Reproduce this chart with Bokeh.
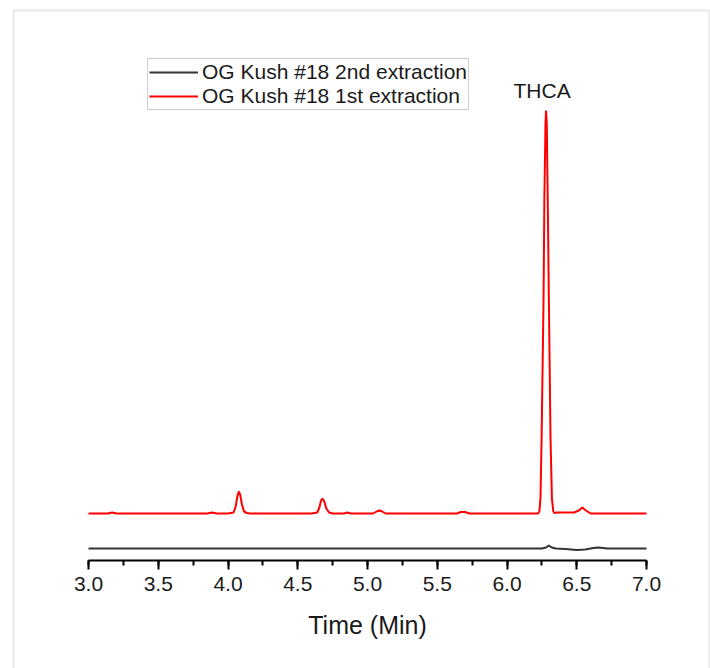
from bokeh.plotting import figure
from bokeh.models import (Range1d, SingleIntervalTicker, PrintfTickFormatter,
                          Legend, LegendItem, Label, BoxAnnotation)
from bokeh.embed import file_html
from bokeh.resources import INLINE

# ---- data (retention time in min, detector signal in arbitrary units) ----
time_1st = [3.00, 3.14, 3.17, 3.20, 3.50, 3.85, 3.887, 3.92, 4.00, 4.04, 4.055,
            4.067, 4.077, 4.087, 4.10, 4.115, 4.135, 4.16, 4.60, 4.64, 4.655,
            4.667, 4.677, 4.69, 4.705, 4.725, 4.75, 4.83, 4.855, 4.88, 5.04,
            5.065, 5.085, 5.105, 5.13, 5.64, 5.67, 5.70, 5.73, 6.19, 6.222,
            6.232, 6.240, 6.248, 6.262, 6.268, 6.276, 6.280, 6.285, 6.292,
            6.300, 6.312, 6.322, 6.332, 6.340, 6.36, 6.40, 6.48, 6.515, 6.54,
            6.565, 6.60, 6.80, 7.00]
signal_1st = [35, 35, 36, 35, 35, 35, 36, 35, 35, 36, 42,
              52, 57, 54, 44, 37, 35.5, 35, 35, 36, 41,
              48, 50, 47, 40, 36, 35, 35, 36, 35, 35,
              37, 38, 37, 35, 35, 36.5, 36.5, 35, 35, 35,
              37, 50, 110, 250, 350, 425, 438, 425, 350,
              250, 110, 50, 37, 35.5, 36, 36, 36, 38, 41,
              38, 35, 35, 35]

time_2nd = [3.00, 4.00, 5.00, 6.25, 6.28, 6.30, 6.32, 6.35, 6.42, 6.50, 6.56,
            6.62, 6.656, 6.72, 7.00]
signal_2nd = [0, 0, 0, 0, 1, 3, 1, 0, -0.5, -1.5, -1, 0.5, 1, 0, 0]

series_labels = ["OG Kush #18 2nd extraction", "OG Kush #18 1st extraction"]
peak_label = "THCA"
x_title = "Time (Min)"
x_tick_range = (3.0, 7.0)

FONT = "Liberation Sans"
TEXT = "#1a1a1a"

W, H = 710, 668
PX_PER_MIN = 139.5          # horizontal scale, pixels per minute
X0_PX = 88                  # pixel column of 3.0 min
BASE_PX = 548               # pixel row of the zero signal level

x_start = x_tick_range[0] - X0_PX / PX_PER_MIN
x_end = x_start + W / PX_PER_MIN
y_end = BASE_PX
y_start = BASE_PX - H


def px_x(px):
    return x_start + px / PX_PER_MIN


def px_y(py):
    return BASE_PX - py


p = figure(width=W, height=H, output_backend="svg", toolbar_location=None,
           x_range=Range1d(x_start, x_end), y_range=Range1d(y_start, y_end),
           min_border_left=0, min_border_right=0, min_border_top=0,
           min_border_bottom=0, y_axis_location=None)
p.background_fill_color = "white"
p.border_fill_color = "white"
p.outline_line_color = None
p.grid.grid_line_color = None

# light grey picture frame (its bottom edge lies below the visible area)
p.add_layout(BoxAnnotation(left=px_x(13), right=px_x(709), top=px_y(10), bottom=px_y(720),
                           fill_alpha=0, line_color="#b4b4b4", line_width=2,
                           level="underlay"))

r2 = p.line(time_2nd, signal_2nd, line_color="#333333", line_width=2)
r1 = p.line(time_1st, signal_1st, line_color="#ff0000", line_width=2)

ax = p.xaxis[0]
ax.fixed_location = px_y(560)
ax.bounds = x_tick_range
ax.ticker = SingleIntervalTicker(interval=0.5, num_minor_ticks=2)
ax.formatter = PrintfTickFormatter(format="%.1f")
ax.axis_line_color = "black"
ax.axis_line_width = 2
ax.major_tick_line_color = "black"
ax.major_tick_line_width = 2
ax.major_tick_in = 0
ax.major_tick_out = 9
ax.minor_tick_line_color = "black"
ax.minor_tick_line_width = 2
ax.minor_tick_in = 0
ax.minor_tick_out = 5
ax.major_label_text_font = FONT
ax.major_label_text_font_size = "21px"
ax.major_label_text_color = TEXT
ax.major_label_standoff = 7
ax.axis_label = x_title
ax.axis_label_text_font = FONT
ax.axis_label_text_font_size = "25px"
ax.axis_label_text_font_style = "normal"
ax.axis_label_text_color = TEXT
ax.axis_label_standoff = 17

legend = Legend(items=[LegendItem(label=series_labels[0], renderers=[r2]),
                       LegendItem(label=series_labels[1], renderers=[r1])],
                location=(147, H - 110))
legend.label_text_font = FONT
legend.label_text_font_size = "21px"
legend.label_text_color = TEXT
legend.glyph_width = 49
legend.glyph_height = 20
legend.label_height = 20
legend.label_standoff = 4
legend.spacing = 0
legend.padding = 1
legend.margin = 0
legend.border_line_color = "#a0a0a0"
legend.border_line_width = 1
legend.background_fill_alpha = 1
p.add_layout(legend, "center")

i_max = signal_1st.index(max(signal_1st))
p.add_layout(Label(x=time_1st[i_max], y=signal_1st[i_max], x_offset=-4, y_offset=20,
                   text=peak_label, text_align="center", text_baseline="middle",
                   text_font=FONT, text_font_size="21px", text_color=TEXT))

open("out.html", "w").write(file_html(p, INLINE))
